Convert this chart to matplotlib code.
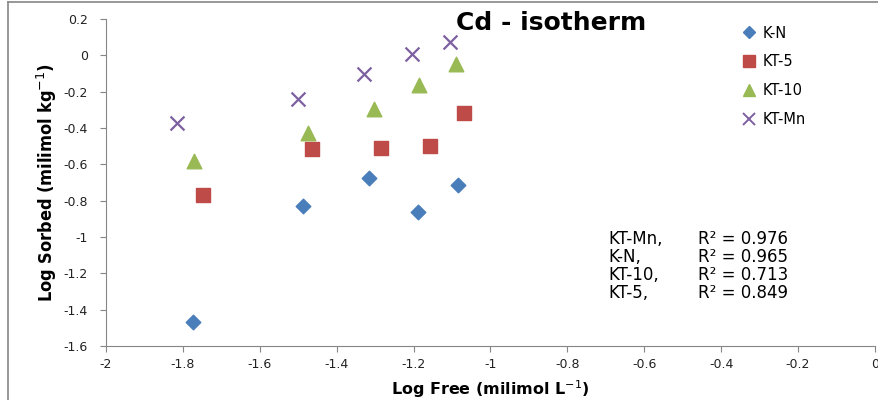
import matplotlib
matplotlib.use("Agg")
import matplotlib.pyplot as plt
from matplotlib.lines import Line2D

# Log free vs log sorbed
kn_x = [-1.774, -1.488, -1.316, -1.189, -1.085]
kn_y = [-1.468, -0.829, -0.675, -0.862, -0.714]

kt5_x = [-1.748, -1.464, -1.285, -1.157, -1.069]
kt5_y = [-0.769, -0.515, -0.510, -0.499, -0.317]

kt10_x = [-1.771, -1.475, -1.303, -1.186, -1.090]
kt10_y = [-0.582, -0.427, -0.297, -0.163, -0.048]

ktmn_x = [-1.815, -1.501, -1.329, -1.204, -1.105]
ktmn_y = [-0.372, -0.240, -0.103, 0.007, 0.073]

fit_names = ["KT-Mn,", "K-N,", "KT-10,", "KT-5,"]
fit_r2 = ["0.976", "0.965", "0.713", "0.849"]

plt.rcParams['font.family'] = ['DejaVu Sans']

fig = plt.figure(figsize=(8.79, 4.0), dpi=100)
ax = fig.add_axes([0.1206, 0.135, 0.8748, 0.8175])

ax.scatter(kn_x, kn_y, marker='D', s=55, color='#4a7ebb', label='K-N', zorder=3)
ax.scatter(kt5_x, kt5_y, marker='s', s=110, color='#be4b48', label='KT-5', zorder=3)
ax.scatter(kt10_x, kt10_y, marker='^', s=110, color='#98b954', label='KT-10', zorder=3)
ax.scatter(ktmn_x, ktmn_y, marker='x', s=100, color='#7d60a0', linewidths=1.6,
           label='KT-Mn', zorder=3)

ax.set_xlim(-2, 0)
ax.set_ylim(-1.6, 0.2)
ax.set_xticks([-2, -1.8, -1.6, -1.4, -1.2, -1, -0.8, -0.6, -0.4, -0.2, 0])
ax.set_xticklabels(['-2', '-1.8', '-1.6', '-1.4', '-1.2', '-1', '-0.8', '-0.6',
                    '-0.4', '-0.2', '0'])
ax.set_yticks([0.2, 0, -0.2, -0.4, -0.6, -0.8, -1, -1.2, -1.4, -1.6])
ax.set_yticklabels(['0.2', '0', '-0.2', '-0.4', '-0.6', '-0.8', '-1', '-1.2',
                    '-1.4', '-1.6'])

for s in ['top', 'right']:
    ax.spines[s].set_visible(False)
for s in ['left', 'bottom']:
    ax.spines[s].set_color('#868686')
ax.tick_params(colors='#868686', labelcolor='#222222', labelsize=9, length=4, pad=5)
ax.tick_params(axis='y', pad=9)

ax.set_xlabel('Log Free (milimol L$^{-1}$)', fontsize=11.5, fontweight='bold', labelpad=5)
ax.set_ylabel('Log Sorbed (milimol kg$^{-1}$)', fontsize=13, fontweight='bold',
              fontstretch='condensed',
              family=['Liberation Sans Narrow', 'DejaVu Sans'], labelpad=3)

fig.text(0.627, 0.943, 'Cd - isotherm', fontsize=18, fontweight='bold',
         ha='center', va='center')

handles = [
    Line2D([], [], marker='D', linestyle='', markersize=6, color='#4a7ebb'),
    Line2D([], [], marker='s', linestyle='', markersize=9, color='#be4b48'),
    Line2D([], [], marker='^', linestyle='', markersize=9, color='#98b954'),
    Line2D([], [], marker='x', linestyle='', markersize=8, markeredgewidth=1.4,
           color='#7d60a0'),
]
ax.legend(handles, ['K-N', 'KT-5', 'KT-10', 'KT-Mn'], loc='upper left',
          bbox_to_anchor=(0.808, 1.02), frameon=False, fontsize=10.5,
          handletextpad=0.35, labelspacing=0.95, handlelength=1.2)

for i, (n, r) in enumerate(zip(fit_names, fit_r2)):
    y = 0.402 - i * 0.045
    fig.text(0.692, y, n, fontsize=12, va='center')
    fig.text(0.794, y, 'R² = ' + r, fontsize=12, va='center')

# grey frame around the chart area
fig.add_artist(Line2D([0.009, 1.0], [0.995, 0.995], color='#868686', lw=1.2))
fig.add_artist(Line2D([0.009, 0.009], [0.0, 0.995], color='#868686', lw=1.2))

fig.savefig('out.png', dpi=100)
